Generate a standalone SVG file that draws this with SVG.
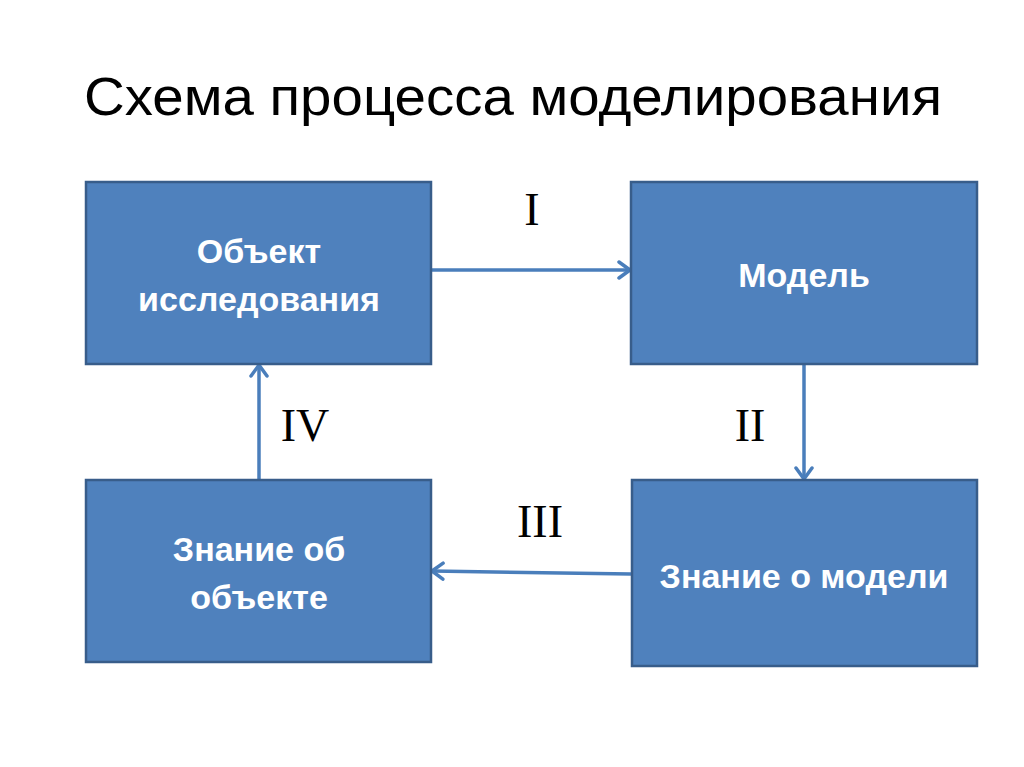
<svg xmlns="http://www.w3.org/2000/svg" width="1024" height="767" viewBox="0 0 1024 767">
<defs>
<style>
.box{fill:#4F81BD;stroke:#385D8A;stroke-width:2.5}
.bt{font-family:"Liberation Sans",Arial,sans-serif;font-weight:bold;font-size:34px;fill:#fff;text-anchor:middle}
.rn{font-family:"Liberation Serif","Times New Roman",serif;font-size:46px;fill:#000;text-anchor:middle}
.ln{stroke:#4A7EBB;stroke-width:3.5;fill:none}
</style>
<marker id="ah" viewBox="0 0 16 20" refX="14" refY="10" markerWidth="16" markerHeight="20" markerUnits="userSpaceOnUse" orient="auto">
<path d="M3,2 L14,10 L3,18" fill="none" stroke="#4A7EBB" stroke-width="3.5" stroke-linecap="round" stroke-linejoin="round"/>
</marker>
</defs>
<rect width="1024" height="767" fill="#fff"/>
<text x="513" y="115" font-family="Liberation Sans,Arial,sans-serif" font-size="54" fill="#000" text-anchor="middle" textLength="858" lengthAdjust="spacingAndGlyphs">Схема процесса моделирования</text>
<g id="connectors">
<line class="ln" x1="432" y1="270" x2="630" y2="270" marker-end="url(#ah)"/>
<line class="ln" x1="804" y1="365" x2="804" y2="479" marker-end="url(#ah)"/>
<line class="ln" x1="631" y1="574" x2="432" y2="571" marker-end="url(#ah)"/>
<line class="ln" x1="259" y1="479" x2="259" y2="365" marker-end="url(#ah)"/>
<text class="rn" x="532" y="225">I</text>
<text class="rn" x="750" y="441">II</text>
<text class="rn" x="305" y="441">IV</text>
<text class="rn" x="540" y="537">III</text>
</g>
<g id="node-object">
<rect class="box" x="86" y="182" width="345" height="182"/>
<text class="bt" x="259" y="263">Объект</text>
<text class="bt" x="259" y="311">исследования</text>
</g>
<g id="node-model">
<rect class="box" x="631" y="182" width="346" height="182"/>
<text class="bt" x="804" y="287">Модель</text>
</g>
<g id="node-knowledge-object">
<rect class="box" x="86" y="480" width="345" height="182"/>
<text class="bt" x="259" y="561">Знание об</text>
<text class="bt" x="259" y="609">объекте</text>
</g>
<g id="node-knowledge-model">
<rect class="box" x="632" y="480" width="345" height="186"/>
<text class="bt" x="804" y="588">Знание о модели</text>
</g>
</svg>
